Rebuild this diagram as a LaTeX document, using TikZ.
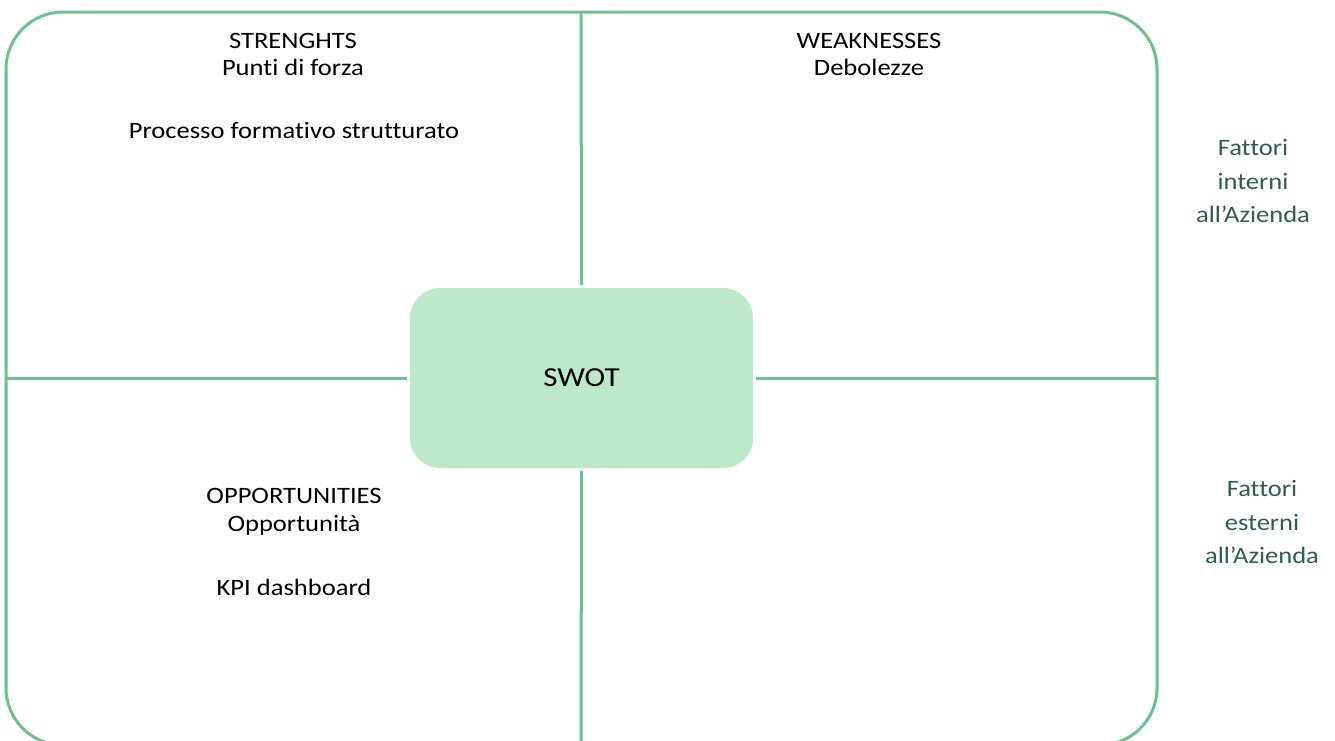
\documentclass[tikz,border=0pt]{standalone}
\usepackage{fontspec}
\setmainfont{Carlito}[Ligatures=NoCommon,FakeStretch=1.13]
\definecolor{swotline}{HTML}{6CC28F}
\definecolor{swotfill}{HTML}{BDE8CC}
\definecolor{swotnote}{HTML}{2F5F45}
\tikzset{
    frameline/.style={draw=swotline,line width=3pt},
    quadtext/.style={align=center,inner sep=0pt,font=\fontsize{23.5}{27.5}\selectfont},
    sidetext/.style={align=center,inner sep=0pt,text=swotnote,font=\fontsize{23.5}{33.5}\selectfont}
}
\begin{document}
\begin{tikzpicture}[x=1pt,y=-1pt]
            \useasboundingbox (0,0) rectangle (1335,740);
            % outer frame and quadrant ends
            \draw[frameline,rounded corners=57] (6,12) rectangle (1157,745);
            \coordinate (ftop) at (581,12);
            \coordinate (fbot) at (581,745);
            \coordinate (fleft) at (6,378);
            \coordinate (fright) at (1157,378);
            \node[fill=swotfill,rounded corners=30,minimum width=343,minimum height=180,
                font=\fontsize{27.5}{30}\selectfont] (swot) at (581.5,378) {SWOT};
            \draw[frameline,shorten >=3pt] (ftop) -- (swot.north);
            \draw[frameline,shorten >=3pt] (fbot) -- (swot.south);
            \draw[frameline,shorten >=3pt] (fleft) -- (swot.west);
            \draw[frameline,shorten >=3pt] (fright) -- (swot.east);
            % quadrant texts
            \node[quadtext] (str) at (293,54.5) {STRENGHTS\\Punti di forza};
            \node[quadtext] (strnote) at (294,130) {Processo formativo strutturato};
            \node[quadtext] (weak) at (869,54.5) {WEAKNESSES\\Debolezze};
            \node[quadtext] (opp) at (294,512) {OPPORTUNITIES\\Opportunità};
            \node[quadtext] (oppnote) at (294,587) {KPI dashboard};
            % side notes
            \node[sidetext] (intern) at (1253,181) {Fattori\\interni\\all’Azienda};
            \node[sidetext] (extern) at (1262,522) {Fattori\\esterni\\all’Azienda};
\end{tikzpicture}
\end{document}
